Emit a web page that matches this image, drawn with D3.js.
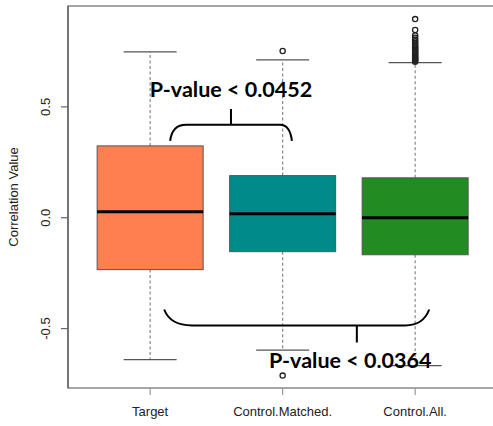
<!DOCTYPE html>
<html>
<head>
<meta charset="utf-8">
<script src="https://cdn.jsdelivr.net/npm/d3@7"></script>
<style>
html,body{margin:0;padding:0;background:#fff;}
svg{display:block;}
</style>
</head>
<body>
<svg id="chart" width="493" height="426"></svg>
<script>
// ---- data ----
const categories = ["Target", "Control.Matched.", "Control.All."];
const colors = ["#FF7F50", "#008B8B", "#228B22"];
const lowerWhisker = [-0.640, -0.597, -0.667];
const q1 = [-0.234, -0.153, -0.167];
const medians = [0.027, 0.018, 0.000];
const q3 = [0.324, 0.190, 0.180];
const upperWhisker = [0.748, 0.712, 0.700];
const outliers = [
  [],
  [0.752, -0.712],
  [0.704, 0.708, 0.712, 0.717, 0.721, 0.726, 0.731, 0.735, 0.741, 0.746, 0.752, 0.757,
   0.763, 0.768, 0.774, 0.781, 0.788, 0.796, 0.804, 0.812, 0.822, 0.847, 0.896]
];
const yTicks = [-0.5, 0.0, 0.5];
const yTickLabels = ["-0.5", "0.0", "0.5"];
const yLabel = "Correlation Value";
const comparisons = [
  {from: 1, to: 2, label: "P-value < 0.0452", side: "top"},
  {from: 1, to: 3, label: "P-value < 0.0364", side: "bottom"}
];

// ---- layout ----
const svg = d3.select("#chart");
const plotLeft = 68, plotTop = 6, plotBottom = 388;
const x = d3.scaleLinear().domain([0.38, 3.62]).range([plotLeft, plotLeft + 3.24 * 132.5]);
const y = d3.scaleLinear().domain([-0.768, 0.955]).range([plotBottom, plotTop]);
const boxW = x(1.4) - x(1);   // half box width (boxwex 0.8)
const capW = boxW / 2;

const axisColor = "#666";
const lineColor = "#555";

// plot frame
svg.append("rect")
  .attr("x", x(0.38)).attr("y", y(0.955))
  .attr("width", x(3.62) - x(0.38)).attr("height", y(-0.768) - y(0.955))
  .attr("fill", "none").attr("stroke", "#888").attr("stroke-width", 1.5);

// boxes
const g = svg.append("g");
categories.forEach((c, i) => {
  const cx = x(i + 1);
  g.append("line").attr("x1", cx).attr("x2", cx)
    .attr("y1", y(q3[i])).attr("y2", y(upperWhisker[i]))
    .attr("stroke", "#888").attr("stroke-width", 1.2).attr("stroke-dasharray", "3,2.5");
  g.append("line").attr("x1", cx).attr("x2", cx)
    .attr("y1", y(q1[i])).attr("y2", y(lowerWhisker[i]))
    .attr("stroke", "#888").attr("stroke-width", 1.2).attr("stroke-dasharray", "3,2.5");
  [upperWhisker[i], lowerWhisker[i]].forEach(v => {
    g.append("line").attr("x1", cx - capW).attr("x2", cx + capW)
      .attr("y1", y(v)).attr("y2", y(v))
      .attr("stroke", lineColor).attr("stroke-width", 1.2);
  });
  g.append("rect")
    .attr("x", cx - boxW).attr("width", 2 * boxW)
    .attr("y", y(q3[i])).attr("height", y(q1[i]) - y(q3[i]))
    .attr("fill", colors[i]).attr("stroke", lineColor).attr("stroke-width", 1);
  g.append("line").attr("x1", cx - boxW).attr("x2", cx + boxW)
    .attr("y1", y(medians[i])).attr("y2", y(medians[i]))
    .attr("stroke", "#000").attr("stroke-width", 3);
  g.selectAll(null).data(outliers[i]).enter().append("circle")
    .attr("cx", cx).attr("cy", d => y(d)).attr("r", 2.6)
    .attr("fill", "none").attr("stroke", "#222").attr("stroke-width", 1.3);
});

// y axis
const yAxisG = svg.append("g").attr("transform", `translate(${plotLeft},0)`);
yAxisG.append("line").attr("x1", 0).attr("x2", 0).attr("y1", y(0.955)).attr("y2", y(-0.768))
  .attr("stroke", axisColor).attr("stroke-width", 1.5);
yTicks.forEach((t, i) => {
  yAxisG.append("line").attr("x1", -7).attr("x2", 0).attr("y1", y(t)).attr("y2", y(t))
    .attr("stroke", axisColor).attr("stroke-width", 1.2);
  yAxisG.append("text")
    .attr("transform", `translate(-18,${y(t)}) rotate(-90)`)
    .attr("text-anchor", "middle")
    .attr("font-family", "Liberation Sans, Arial, sans-serif")
    .attr("font-size", 13).attr("fill", "#222")
    .text(yTickLabels[i]);
});
svg.append("text")
  .attr("transform", `translate(18,${(plotTop + plotBottom) / 2}) rotate(-90)`)
  .attr("text-anchor", "middle")
  .attr("font-family", "Liberation Sans, Arial, sans-serif")
  .attr("font-size", 13).attr("fill", "#222")
  .text(yLabel);

// x axis
const xAxisG = svg.append("g").attr("transform", `translate(0,${plotBottom})`);
categories.forEach((c, i) => {
  xAxisG.append("line").attr("x1", x(i + 1)).attr("x2", x(i + 1)).attr("y1", 0).attr("y2", 7)
    .attr("stroke", "#999").attr("stroke-width", 1.2);
  xAxisG.append("text").attr("x", x(i + 1)).attr("y", 28)
    .attr("text-anchor", "middle")
    .attr("font-family", "Liberation Sans, Arial, sans-serif")
    .attr("font-size", 13).attr("fill", "#222")
    .text(c);
});

// comparison brackets
const ann = svg.append("g").attr("fill", "none").attr("stroke", "#000").attr("stroke-width", 2);
comparisons.forEach(cmp => {
  const p = d3.path();
  if (cmp.side === "top") {
    const x0 = x(cmp.from + 0.151), x1 = x(cmp.to + 0.07);
    const yEnd = y(0.347), yMid = y(0.419);
    p.moveTo(x0, yEnd);
    p.quadraticCurveTo(x0 + 2, yMid, x0 + 16, yMid);
    p.lineTo(x1 - 12, yMid);
    p.quadraticCurveTo(x1 - 2, yMid, x1, yEnd);
    const xm = x(1.61);
    p.moveTo(xm, yMid); p.lineTo(xm, y(0.49));
    ann.append("path").attr("d", p.toString());
    svg.append("text").attr("x", xm).attr("y", y(0.545))
      .attr("text-anchor", "middle")
      .attr("font-family", "Lato, 'Open Sans', sans-serif").attr("font-weight", "bold")
      .attr("font-size", 21.5).attr("fill", "#000")
      .text(cmp.label);
  } else {
    const x0 = x(cmp.from + 0.106), x1 = x(cmp.to + 0.106);
    const yEnd = y(-0.414), yMid = y(-0.486);
    p.moveTo(x0, yEnd);
    p.quadraticCurveTo(x0 + 6, yMid, x0 + 28, yMid);
    p.lineTo(x1 - 24, yMid);
    p.quadraticCurveTo(x1 - 6, yMid, x1, yEnd);
    const xm = x(2.56);
    p.moveTo(xm, yMid); p.lineTo(xm, y(-0.563));
    ann.append("path").attr("d", p.toString());
    svg.append("text").attr("x", x(2.51)).attr("y", y(-0.676))
      .attr("text-anchor", "middle")
      .attr("font-family", "Lato, 'Open Sans', sans-serif").attr("font-weight", "bold")
      .attr("font-size", 21.5).attr("fill", "#000")
      .text(cmp.label);
  }
});
</script>
</body>
</html>
